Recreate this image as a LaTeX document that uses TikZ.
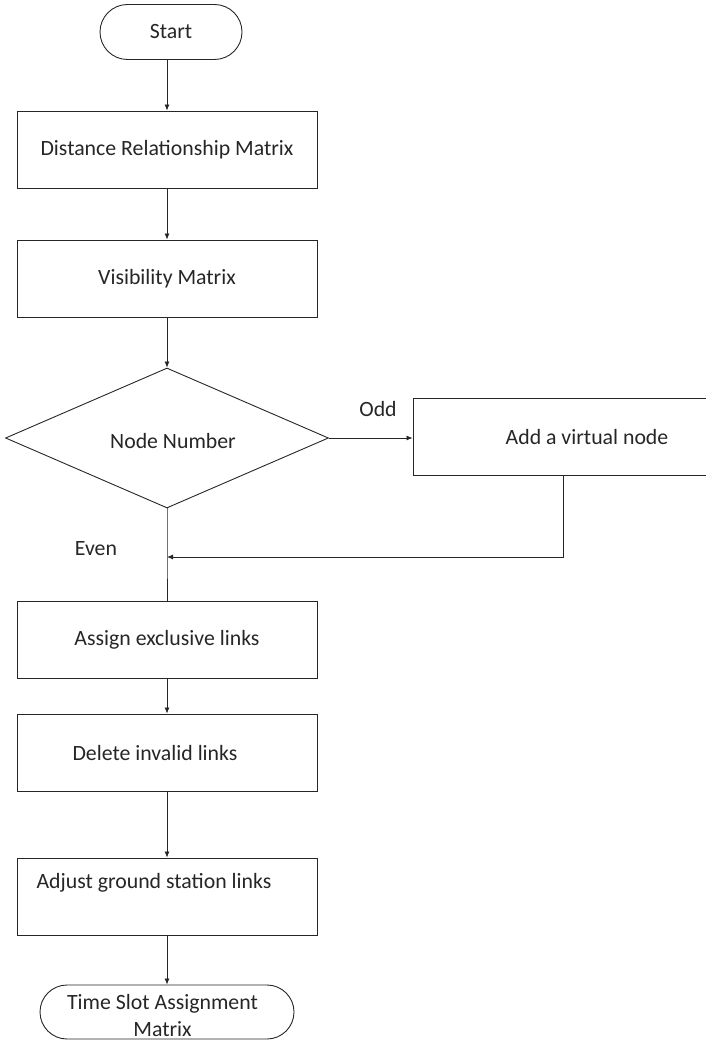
\documentclass[tikz,border=0pt]{standalone}
\usepackage{fontspec}
\setmainfont{Carlito}
\usetikzlibrary{shapes.geometric,shapes.misc,arrows.meta}
\begin{document}
\begin{tikzpicture}[x=1pt,y=-1pt,
  every node/.style={font=\fontsize{21.8}{27}\selectfont, text=black!85},
  box/.style={draw=black!85, line width=0.9pt, rectangle, minimum width=300pt, minimum height=77pt, inner sep=0pt},
  term/.style={draw=black!85, line width=0.9pt, rounded rectangle, inner sep=0pt},
  dec/.style={draw=black!85, line width=0.9pt, diamond, inner sep=0pt, minimum width=323pt, minimum height=140pt},
  lbl/.style={inner sep=0pt},
  conn/.style={draw=black!85, line width=0.8pt, -{Latex[length=6pt,width=5pt]}},
  line/.style={draw=black!85, line width=0.8pt}]
\useasboundingbox (0,0) rectangle (705,1040);
\node[term, minimum width=142pt, minimum height=55pt] (start) at (171,32) {Start};
\node[box] (dist) at (167,149.5) {Distance Relationship Matrix};
\node[box] (vis) at (167,278.5) {Visibility Matrix};
\node[dec] (dn) at (167,438) {};
\node[lbl] (dntext) at (173,441) {Node Number};
\node[box, minimum width=348pt] (virt) at (587,436.5) {};
\node[lbl] (virttext) at (587,437) {Add a virtual node};
\node[lbl] (odd) at (378,409) {Odd};
\node[lbl] (even) at (96,549) {Even};
\node[box] (assign) at (167,639.5) {Assign exclusive links};
\node[box] (del) at (167,752.5) {};
\node[lbl] (deltext) at (155,753) {Delete invalid links};
\node[box] (adj) at (167,896.5) {};
\node[lbl] (adjtext) at (154,883) {Adjust ground station links};
\node[term, minimum width=254pt, minimum height=54pt] (fin) at (167,1012) {};
\node[lbl, align=center] (fintext) at (162.5,1015) {Time Slot Assignment\\Matrix};
\coordinate (j) at (167,557);
\draw[conn] (start.south -| dist.north) -- (dist.north);
\draw[conn] (dist) -- (vis);
\draw[conn] (vis.south) -- (vis.south |- dn.north);
\draw[conn] (dn.east) -- (virt.west |- dn.east);
\draw[line] (dn.south) -- (j) -- (assign.north);
\draw[conn] (virt.south -| 563,0) |- (j);
\draw[conn] (assign) -- (del);
\draw[conn] (del) -- (adj);
\draw[conn] (adj) -- (fin);
\end{tikzpicture}
\end{document}
